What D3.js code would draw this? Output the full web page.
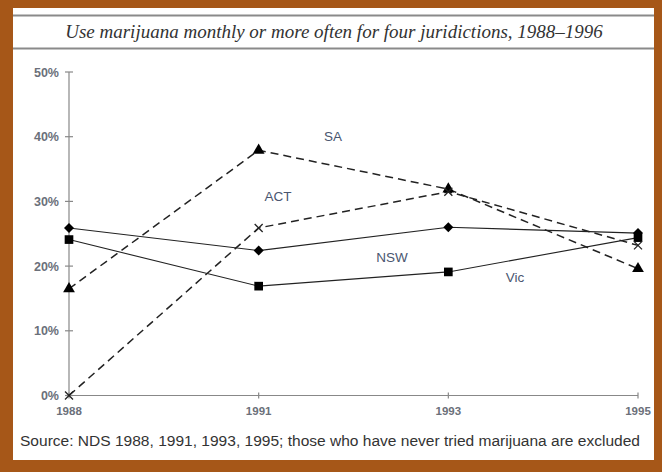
<!DOCTYPE html>
<html>
<head>
<meta charset="utf-8">
<script src="https://cdn.jsdelivr.net/npm/d3@7"></script>
<style>
  body { margin: 0; background: #a65718; }
  svg { display: block; }
</style>
</head>
<body>
<div id="chart"></div>
<script>
// data
var years = ["1988", "1991", "1993", "1995"];
var nsw = [25.9, 22.4, 26.0, 25.1];
var vic = [24.1, 16.9, 19.1, 24.4];
var sa = [16.5, 37.9, 31.9, 19.6];
var act = [0.0, 25.9, 31.5, 23.2];
var yTicks = [0, 10, 20, 30, 40, 50];

var series = [
  { name: "NSW", values: nsw, dash: null, marker: "diamond", lx: 392, ly: 262 },
  { name: "Vic", values: vic, dash: null, marker: "square", lx: 515, ly: 282 },
  { name: "SA", values: sa, dash: "8,5", marker: "triangle", lx: 333, ly: 141 },
  { name: "ACT", values: act, dash: "8,5", marker: "cross", lx: 278, ly: 201 }
];

var width = 662, height = 472;
var svg = d3.select("#chart").append("svg")
    .attr("width", width)
    .attr("height", height);

// brown frame + white panel
svg.append("rect").attr("width", width).attr("height", height).attr("fill", "#a65718");
svg.append("rect").attr("x", 13).attr("y", 8).attr("width", 641).attr("height", 452).attr("fill", "#fff");

// title band
svg.append("line").attr("x1", 13).attr("x2", 654).attr("y1", 15.5).attr("y2", 15.5)
    .attr("stroke", "#8a8a8a").attr("stroke-width", 2);
svg.append("line").attr("x1", 13).attr("x2", 654).attr("y1", 48.5).attr("y2", 48.5)
    .attr("stroke", "#8a8a8a").attr("stroke-width", 2);
svg.append("text")
    .attr("x", 334).attr("y", 38)
    .attr("text-anchor", "middle")
    .attr("font-family", "Liberation Serif, Times New Roman, serif")
    .attr("font-style", "italic")
    .attr("font-size", 19)
    .attr("fill", "#333")
    .text("Use marijuana monthly or more often for four juridictions, 1988\u20131996");

var x = d3.scalePoint().domain(years).range([69, 638]);
var y = d3.scaleLinear().domain([0, 50]).range([395.5, 72]);

// axes
var axisColor = "#888";
svg.append("line").attr("x1", 69).attr("x2", 69).attr("y1", y(50)).attr("y2", y(0))
    .attr("stroke", axisColor).attr("stroke-width", 1.2);
svg.append("line").attr("x1", 69).attr("x2", 638).attr("y1", y(0)).attr("y2", y(0))
    .attr("stroke", axisColor).attr("stroke-width", 1.2);

svg.selectAll(".ytick").data(yTicks).enter().append("line")
    .attr("x1", 65).attr("x2", 73)
    .attr("y1", function(d) { return y(d); })
    .attr("y2", function(d) { return y(d); })
    .attr("stroke", axisColor).attr("stroke-width", 1.2);

svg.selectAll(".ylab").data(yTicks).enter().append("text")
    .attr("x", 59)
    .attr("y", function(d) { return y(d) + 4.5; })
    .attr("text-anchor", "end")
    .attr("font-family", "Liberation Sans, Arial, sans-serif")
    .attr("font-size", 12.5)
    .attr("font-weight", "bold")
    .attr("fill", "#6b707a")
    .text(function(d) { return d + "%"; });

svg.selectAll(".xtick").data(years).enter().append("line")
    .attr("x1", function(d) { return x(d); })
    .attr("x2", function(d) { return x(d); })
    .attr("y1", y(0) - 3).attr("y2", y(0) + 3)
    .attr("stroke", axisColor).attr("stroke-width", 1.2);

svg.selectAll(".xlab").data(years).enter().append("text")
    .attr("x", function(d) { return x(d); })
    .attr("y", 415)
    .attr("text-anchor", "middle")
    .attr("font-family", "Liberation Sans, Arial, sans-serif")
    .attr("font-size", 11.5)
    .attr("font-weight", "bold")
    .attr("fill", "#6b707a")
    .text(function(d) { return d; });

// lines
var line = d3.line()
    .x(function(d, i) { return x(years[i]); })
    .y(function(d) { return y(d); });

series.forEach(function(s) {
  svg.append("path")
      .datum(s.values)
      .attr("d", line)
      .attr("fill", "none")
      .attr("stroke", "#222")
      .attr("stroke-width", s.dash ? 1.5 : 1.1)
      .attr("stroke-dasharray", s.dash);
});

// markers
var shapes = {
  diamond: "M0,-5L5,0L0,5L-5,0Z",
  square: d3.symbol().type(d3.symbolSquare).size(75)(),
  triangle: d3.symbol().type(d3.symbolTriangle).size(60)(),
  cross: "M-4,-4L4,4M-4,4L4,-4"
};

series.forEach(function(s) {
  svg.append("g").selectAll("path")
      .data(s.values)
      .enter().append("path")
      .attr("d", shapes[s.marker])
      .attr("transform", function(d, i) { return "translate(" + x(years[i]) + "," + y(d) + ")"; })
      .attr("fill", s.marker === "cross" ? "none" : "#000")
      .attr("stroke", s.marker === "cross" ? "#222" : "none")
      .attr("stroke-width", 1.3);
});

// series labels
svg.selectAll(".slab").data(series).enter().append("text")
    .attr("x", function(d) { return d.lx; })
    .attr("y", function(d) { return d.ly; })
    .attr("text-anchor", "middle")
    .attr("font-family", "Liberation Sans, Arial, sans-serif")
    .attr("font-size", 13.5)
    .attr("fill", "#4a5670")
    .text(function(d) { return d.name; });

// source note
svg.append("text")
    .attr("x", 20).attr("y", 446)
    .attr("font-family", "Liberation Sans, Arial, sans-serif")
    .attr("font-size", 14)
    .attr("textLength", 620)
    .attr("lengthAdjust", "spacingAndGlyphs")
    .attr("fill", "#333")
    .text("Source: NDS 1988, 1991, 1993, 1995; those who have never tried marijuana are excluded");
</script>
</body>
</html>
